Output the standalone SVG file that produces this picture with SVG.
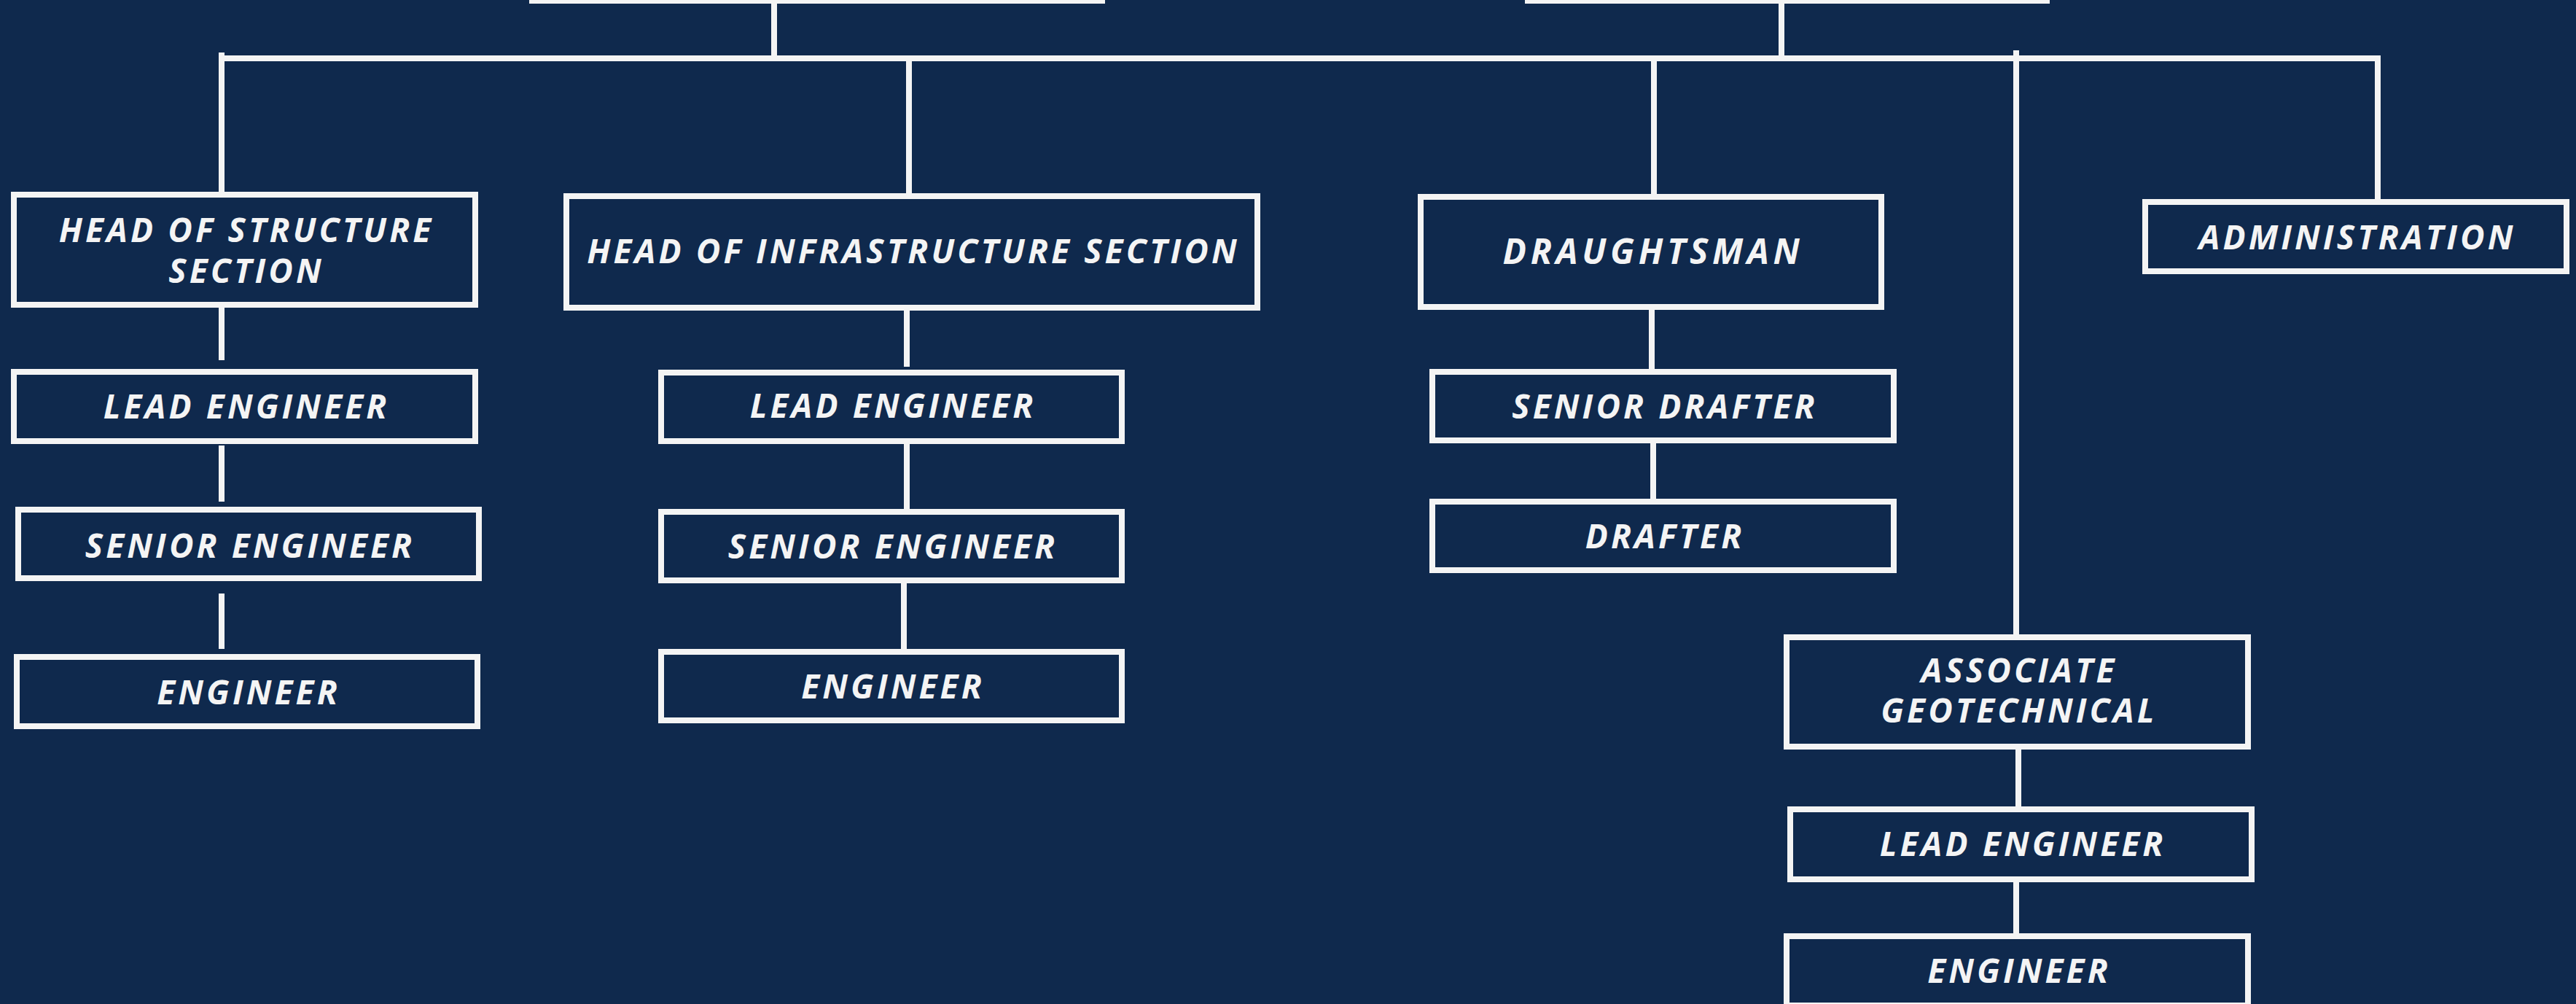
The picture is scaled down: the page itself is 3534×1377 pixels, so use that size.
<svg xmlns="http://www.w3.org/2000/svg" width="3534" height="1377" viewBox="0 0 3534 1377">
<style>
.bg{fill:#0f294d}
.box{fill:#0f294d;stroke:#f4f4f4;stroke-width:8}
.ln{stroke:#f4f4f4;stroke-width:8;fill:none}
.t{fill:#f4f4f4;font-family:"Open Sans","Noto Sans","DejaVu Sans",sans-serif;font-weight:700;font-style:italic;font-size:46px;letter-spacing:4.1px;text-anchor:middle}
.big{font-size:48px;letter-spacing:5.6px}
</style>
<rect class="bg" x="0" y="0" width="3534" height="1377"/>
<g id="connectors">
<path class="ln" d="M300 80H3266"/>
<path class="ln" d="M1062 5V80"/>
<path class="ln" d="M2444 5V80"/>
<path class="ln" d="M304 72V267"/>
<path class="ln" d="M1247 80V269"/>
<path class="ln" d="M2269 80V270"/>
<path class="ln" d="M2766 69V874"/>
<path class="ln" d="M3262 80V277"/>
<path class="ln" d="M304 422V494"/>
<path class="ln" d="M304 611V688"/>
<path class="ln" d="M304 814V890"/>
<path class="ln" d="M1244 426V503"/>
<path class="ln" d="M1244 609V698"/>
<path class="ln" d="M1240 800V890"/>
<path class="ln" d="M2266 425V506"/>
<path class="ln" d="M2268 608V684"/>
<path class="ln" d="M2769 1028V1106"/>
<path class="ln" d="M2766 1210V1280"/>
</g>
<g id="top-left"><rect class="box" x="730" y="-100" width="782" height="101"/></g>
<g id="top-right"><rect class="box" x="2096" y="-100" width="712" height="101"/></g>
<g id="head-structure"><rect class="box" x="19" y="267" width="633" height="151"/><text class="t" x="338" y="332">HEAD OF STRUCTURE</text><text class="t" x="338" y="388">SECTION</text></g>
<g id="lead-1"><rect class="box" x="19" y="510" width="633" height="95"/><text class="t" x="338" y="574">LEAD ENGINEER</text></g>
<g id="senior-1"><rect class="box" x="25" y="699" width="632" height="94"/><text class="t" x="343" y="765">SENIOR ENGINEER</text></g>
<g id="engineer-1"><rect class="box" x="23" y="901" width="632" height="95"/><text class="t" x="341" y="966">ENGINEER</text></g>
<g id="head-infra"><rect class="box" x="777" y="269" width="948" height="153"/><text class="t" x="1253" y="361">HEAD OF INFRASTRUCTURE SECTION</text></g>
<g id="lead-2"><rect class="box" x="907" y="511" width="632" height="94"/><text class="t" x="1225" y="573">LEAD ENGINEER</text></g>
<g id="senior-2"><rect class="box" x="907" y="702" width="632" height="94"/><text class="t" x="1225" y="766">SENIOR ENGINEER</text></g>
<g id="engineer-2"><rect class="box" x="907" y="894" width="632" height="94"/><text class="t" x="1225" y="958">ENGINEER</text></g>
<g id="draughtsman"><rect class="box" x="1949" y="270" width="632" height="151"/><text class="t big" x="2268" y="362">DRAUGHTSMAN</text></g>
<g id="senior-drafter"><rect class="box" x="1965" y="510" width="633" height="94"/><text class="t" x="2284" y="574">SENIOR DRAFTER</text></g>
<g id="drafter"><rect class="box" x="1965" y="688" width="633" height="94"/><text class="t" x="2284" y="752">DRAFTER</text></g>
<g id="associate-geo"><rect class="box" x="2451" y="874" width="633" height="150"/><text class="t" x="2770" y="936">ASSOCIATE</text><text class="t" x="2770" y="991">GEOTECHNICAL</text></g>
<g id="lead-4"><rect class="box" x="2456" y="1110" width="633" height="96"/><text class="t" x="2775" y="1174">LEAD ENGINEER</text></g>
<g id="engineer-4"><rect class="box" x="2451" y="1284" width="633" height="95"/><text class="t" x="2770" y="1348">ENGINEER</text></g>
<g id="administration"><rect class="box" x="2943" y="277" width="578" height="95"/><text class="t" x="3234" y="342">ADMINISTRATION</text></g>
</svg>
